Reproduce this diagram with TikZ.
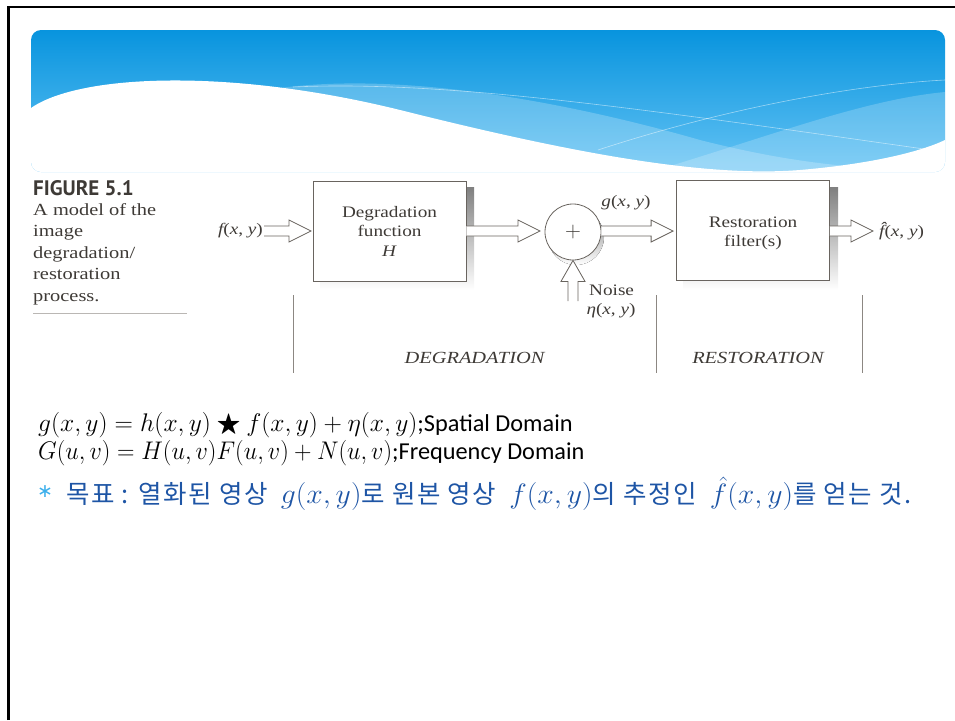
\RequirePackage{fix-cm}
\documentclass[tikz,border=0pt]{standalone}
\usepackage{graphicx}
\usepackage{amssymb}
\usepackage{fontspec}
\setmainfont{Liberation Serif}
\newfontfamily\figfont[FakeStretch=1.2]{Liberation Serif}
\newfontfamily\headfont{PT Sans}
\newfontfamily\calfont{Carlito}
\newfontfamily\krfont[LetterSpace=6]{Noto Sans CJK KR}
\newfontfamily\symfont{DejaVu Sans}
\usetikzlibrary{calc}
\definecolor{ink}{RGB}{62,58,54}
\definecolor{edge}{RGB}{105,100,95}
\definecolor{shade}{RGB}{72,64,58}
\definecolor{sep}{RGB}{140,135,130}
\definecolor{bantop}{RGB}{8,148,222}
\definecolor{banbot}{RGB}{100,195,244}
\definecolor{krblue}{RGB}{30,85,165}
\definecolor{astblue}{RGB}{60,175,235}
\newcommand\fxy[1]{{\itshape #1}({\itshape x}, {\itshape y})}
\newcommand\km[1]{\hspace{13pt}\scalebox{1.06}[1]{\fontsize{28}{30}\selectfont$#1$}}
\newcommand\eqm[1]{{\fontsize{25.5}{28}\selectfont$#1$}}
\newcommand\harrow[2]{%
  \path[arr] let \p1=(#1), \p2=(#2) in
    (\x1,\y1+5pt) -- (\x2-22pt,\y1+5pt) -- (\x2-22pt,\y1+11pt) -- (\x2,\y1)
    -- (\x2-22pt,\y1-11pt) -- (\x2-22pt,\y1-5pt) -- (\x1,\y1-5pt);}
\newcommand\varrow[2]{%
  \path[arr] let \p1=(#1), \p2=(#2) in
    (\x1-5pt,\y1) -- (\x1-5pt,\y2-21pt) -- (\x1-12pt,\y2-21pt) -- (\x1,\y2)
    -- (\x1+12pt,\y2-21pt) -- (\x1+5pt,\y2-21pt) -- (\x1+5pt,\y1);}
\begin{document}
\begin{tikzpicture}[x=1pt,y=-1pt,
  box/.style={draw=edge, line width=0.8pt, fill=white, minimum width=153pt,
    minimum height=100pt, inner sep=0pt},
  boxtext/.style={align=center, inner sep=0pt, text=ink,
    font=\figfont\fontsize{16}{19.5}\selectfont},
  arr/.style={draw=edge, line width=0.8pt, fill=white},
  lbl/.style={text=ink, inner sep=0pt, font=\figfont\fontsize{16}{19.5}\selectfont},
  seclbl/.style={text=ink, inner sep=0pt, font=\figfont\fontsize{17}{20}\selectfont\itshape},
  caption/.style={text=ink, inner sep=0pt, anchor=north west, align=left,
    font=\figfont\fontsize{17}{21.5}\selectfont},
  vsep/.style={draw=sep, line width=0.9pt},
  eq/.style={anchor=west, inner sep=0pt, text=black, font=\calfont\fontsize{24.3}{28}\selectfont}]
\useasboundingbox (0,0) rectangle (955,720);
% slide frame
\draw[line width=2.5pt] (8.5,720) -- (8.5,7) -- (955,7);
% banner
\begin{scope}
  \clip[rounded corners=10pt] (31,30) rectangle (945,172);
  \shade[top color=bantop, bottom color=banbot] (31,30) rectangle (945,172);
  \fill[white, opacity=0.22] (280,88) .. controls (400,72) and (560,100) .. (700,140)
     .. controls (790,163) and (870,172) .. (945,168) -- (945,180) -- (280,180) -- cycle;
  \fill[white, opacity=0.2] (640,175) .. controls (760,140) and (860,100) .. (945,92)
     -- (945,180) -- cycle;
  \draw[white, opacity=0.5, line width=0.6pt] (293,87) .. controls (450,80) and (650,110) .. (945,152);
  \draw[white, opacity=0.5, line width=0.6pt] (598,150) .. controls (720,110) and (850,85) .. (945,80);
  \fill[white] (31,108) .. controls (80,74) and (230,68) .. (400,110)
     .. controls (560,150) and (700,178) .. (800,170)
     .. controls (870,164) and (920,152) .. (945,140) -- (945,180) -- (31,180) -- cycle;
\end{scope}
% caption
\node[anchor=north west, inner sep=0pt, text=ink, font=\headfont\bfseries\fontsize{21}{23}\selectfont] (figtitle) at (33,180) {FIGURE 5.1};
\node[caption] (captext) at (33,203) {A model of the\\image\\degradation/\\restoration\\process.};
\draw[draw=sep!60, line width=0.6pt] (33,313) -- (187,313);
% boxes
\fill[shade] (320,187) rectangle (474,290);
\node[box] (deg) at (389.5,231) {};
\node[boxtext] (degtext) at (deg.center) {Degradation\\function\\\textit{H}};
\fill[shade] (683,187) rectangle (838,290);
\node[box] (rest) at (753,230.5) {};
\node[boxtext] (resttext) at ($(rest.center)+(0,3)$) {Restoration\\filter(s)};
% summing junction
\fill[shade] (576,237) circle (28pt);
\node[circle, draw=edge, line width=0.8pt, fill=white, minimum size=56pt, inner sep=0pt,
  font=\fontsize{22}{22}\selectfont, text=ink] (sum) at (573,232) {$+$};
% labels
\node[lbl, anchor=east] (fin) at (263,231) {\fxy{f}};
\node[lbl, anchor=west] (fout) at (879,231) {\fxy{\^{f}}};
\node[lbl] (glab) at (626,203) {\fxy{g}};
\node[lbl, anchor=west] (noise) at (589,290) {Noise};
\node[lbl] (eta) at (611,311) {\fxy{η}};
\coordinate (nz) at (573,301);
% arrows
\coordinate (inA) at (264,231);
\coordinate (inB) at (311,231);
\harrow{inA}{inB}
\coordinate (d1) at (466.4,231);
\coordinate (d2) at (540,231);
\harrow{d1}{d2}
\coordinate (s1) at ($(sum.east)+(0,-1)$);
\coordinate (s2) at ($(rest.west)+(-3,0.5)$);
\harrow{s1}{s2}
\coordinate (r1) at ($(rest.east)+(0,0.5)$);
\coordinate (r2) at (873,231);
\harrow{r1}{r2}
\varrow{nz}{sum.south}
% separators
\draw[vsep] (293,295) -- (293,373);
\draw[vsep] (656,295) -- (656,373);
\draw[vsep] (862,295) -- (862,373);
\node[seclbl] (degr) at (474.5,358) {DEGRADATION};
\node[seclbl] (resto) at (758,358) {RESTORATION};
% equations
\node[eq] (eq1) at (38,425) {\eqm{g(x,y)=h(x,y)\mathbin{\bigstar} f(x,y)+\eta(x,y)};Spatial Domain};
\node[eq] (eq2) at (38,453) {\scalebox{0.95}[1]{\eqm{G(u,v)=H(u,v)F(u,v)+N(u,v)}};Frequency Domain};
\node[anchor=west, inner sep=0pt, text=astblue, font=\symfont\fontsize{19}{19}\selectfont] (ast) at (37,492) {∗};
\node[anchor=west, inner sep=0pt, text=krblue, font=\krfont\fontsize{25.5}{30}\selectfont] (goal) at (66,494)
  {목표 : 열화된 영상\km{g(x,y)}로 원본 영상\km{f(x,y)}의 추정인\km{\hat{f}(x,y)}를 얻는 것.};
\end{tikzpicture}
\end{document}
